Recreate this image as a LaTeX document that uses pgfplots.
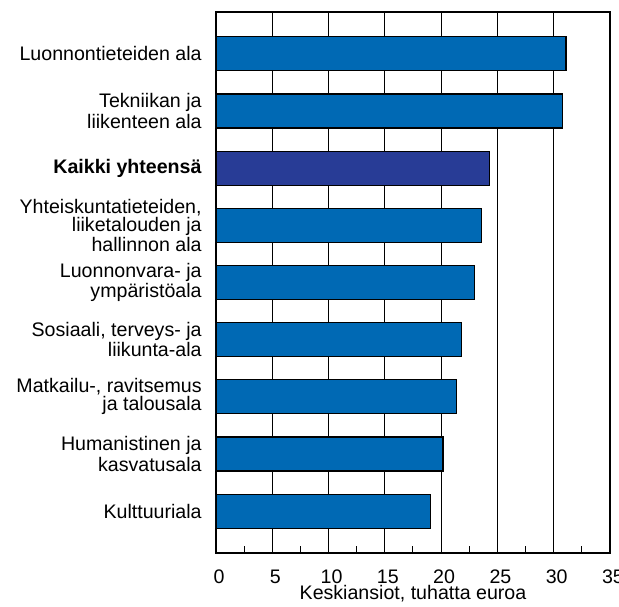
\documentclass[border=0pt]{standalone}
\usepackage{pgfplots}
\pgfplotsset{compat=1.18}
\usepackage{fontspec}
\setmainfont{Liberation Sans}
\definecolor{barblue}{RGB}{0,105,180}
\definecolor{bardark}{RGB}{40,60,150}
\begin{document}
\fontsize{9.8bp}{9bp}\selectfont
\begin{tikzpicture}
\path[use as bounding box] (-108bp,-27bp) rectangle (201.5bp,276.5bp);
\begin{axis}[
  at={(0,0)}, anchor=south west,
  scale only axis, width=197bp, height=270.5bp,
  xbar, bar width=17bp, bar shift=0pt,
  xmin=0, xmax=35, ymin=-0.73, ymax=8.73, y dir=reverse,
  xtick={0,5,...,35}, minor xtick={2.5,7.5,...,32.5},
  ytick={0,...,8},
  yticklabels={
    {Luonnontieteiden ala},
    {Tekniikan ja\\liikenteen ala},
    {\textbf{Kaikki yhteensä}},
    {Yhteiskuntatieteiden,\\liiketalouden ja\\hallinnon ala},
    {Luonnonvara- ja\\ympäristöala},
    {Sosiaali, terveys- ja\\liikunta-ala},
    {Matkailu-, ravitsemus\\ja talousala},
    {Humanistinen ja\\kasvatusala},
    {Kulttuuriala}},
  xmajorgrids, major grid style={black, line width=0.5bp},
  major tick length=0pt, minor tick length=3.5bp,
  tick align=inside, xtick pos=bottom, ytick pos=left,
  minor tick style={black, line width=0.5bp},
  axis line style={black, line width=0.7bp},
  /pgf/number format/assume math mode=true,
  ticklabel style={font=\fontsize{9.8bp}{9bp}\selectfont},
  xticklabel style={anchor=center, yshift=-11.75bp, xshift=1.5bp},
  yticklabel style={align=right, anchor=east, inner sep=0pt, xshift=-7bp},
  xlabel={Keskiansiot, tuhatta euroa},
  xlabel style={at={(axis description cs:0.5,0)}, anchor=center, yshift=-20.5bp, font=\fontsize{9.8bp}{9bp}\selectfont},
]
\addplot[fill=barblue, draw=black, line width=0.6bp] coordinates {
  (31.1,0) (30.75,1) (23.6,3) (22.94,4) (21.79,5) (21.34,6) (20.16,7) (19.03,8)};
\addplot[fill=bardark, draw=black, line width=0.6bp] coordinates {(24.3,2)};
\end{axis}
\end{tikzpicture}
\end{document}
